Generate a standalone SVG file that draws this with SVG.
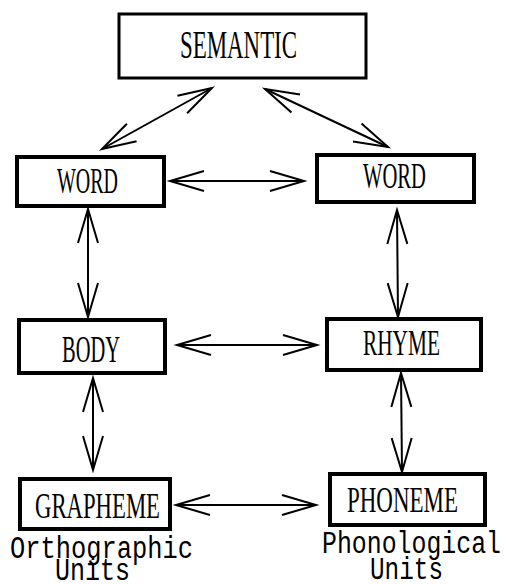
<svg xmlns="http://www.w3.org/2000/svg" width="505" height="584" viewBox="0 0 505 584">
<defs>
<style>
.box{fill:#fff;stroke:#000;stroke-width:4}
.lbl{font-family:"Liberation Serif","Times New Roman",serif;fill:#000}
.cap{font-family:"Liberation Mono","Courier New",monospace;fill:#000;font-size:31px}
.con{stroke:#000;stroke-width:2;fill:none;marker-start:url(#ah);marker-end:url(#ah)}
</style>
<marker id="ah" markerUnits="userSpaceOnUse" orient="auto-start-reverse" refX="0" refY="0" markerWidth="40" markerHeight="24" overflow="visible">
<path d="M-34,-10 L0,0 L-34,10" fill="none" stroke="#000" stroke-width="2"/>
</marker>
</defs>
<rect width="505" height="584" fill="#fff"/>
<g id="connectors">
<line class="con" x1="212" y1="88" x2="102" y2="149"/>
<line class="con" x1="265" y1="89" x2="388" y2="147"/>
<line class="con" x1="170" y1="181" x2="304" y2="181"/>
<line class="con" x1="88" y1="209" x2="88" y2="317"/>
<line class="con" x1="397" y1="210" x2="398" y2="317"/>
<line class="con" x1="177" y1="345" x2="317" y2="345"/>
<line class="con" x1="93" y1="378" x2="93" y2="470"/>
<line class="con" x1="401" y1="373" x2="402" y2="472"/>
<line class="con" x1="176" y1="505" x2="316" y2="505"/>
</g>
<g id="semantic">
<rect class="box" x="119" y="14" width="247" height="64" style="stroke-width:3"/>
<text class="lbl" x="180" y="58" font-size="39" textLength="117" lengthAdjust="spacingAndGlyphs">SEMANTIC</text>
</g>
<g id="word-left">
<rect class="box" x="17" y="157" width="147" height="49"/>
<text class="lbl" x="57" y="193" font-size="35" textLength="61" lengthAdjust="spacingAndGlyphs">WORD</text>
</g>
<g id="word-right">
<rect class="box" x="317" y="155" width="157" height="47"/>
<text class="lbl" x="363" y="188" font-size="35" textLength="63" lengthAdjust="spacingAndGlyphs">WORD</text>
</g>
<g id="body">
<rect class="box" x="19" y="320" width="146" height="53"/>
<text class="lbl" x="62" y="362" font-size="37" textLength="58" lengthAdjust="spacingAndGlyphs">BODY</text>
</g>
<g id="rhyme">
<rect class="box" x="327" y="319" width="154" height="51"/>
<text class="lbl" x="363" y="355" font-size="36" textLength="77" lengthAdjust="spacingAndGlyphs">RHYME</text>
</g>
<g id="grapheme">
<rect class="box" x="20" y="479" width="150" height="50"/>
<text class="lbl" x="35" y="518" font-size="36" textLength="125" lengthAdjust="spacingAndGlyphs">GRAPHEME</text>
<text class="cap" x="10" y="558" textLength="183" lengthAdjust="spacingAndGlyphs">Orthographic</text>
<text class="cap" x="55" y="580" textLength="75" lengthAdjust="spacingAndGlyphs">Units</text>
</g>
<g id="phoneme">
<rect class="box" x="330" y="474" width="155" height="51"/>
<text class="lbl" x="347" y="512" font-size="36" textLength="111" lengthAdjust="spacingAndGlyphs">PHONEME</text>
<text class="cap" x="322" y="553" textLength="179" lengthAdjust="spacingAndGlyphs">Phonological</text>
<text class="cap" x="370" y="579" textLength="73" lengthAdjust="spacingAndGlyphs">Units</text>
</g>
</svg>
